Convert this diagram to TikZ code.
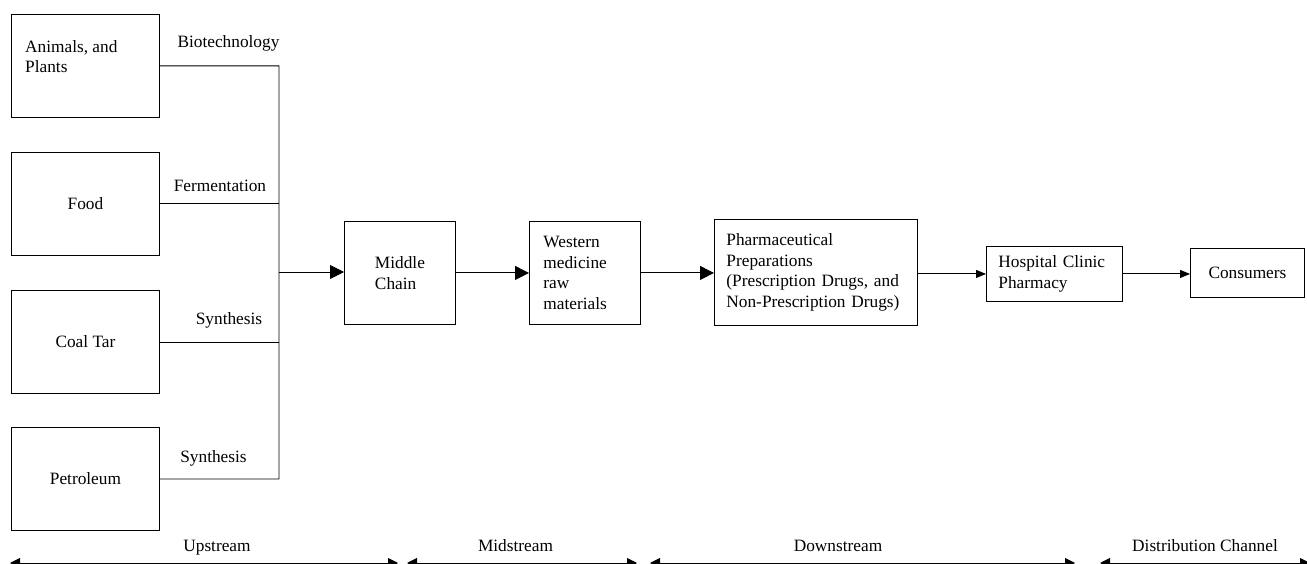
\documentclass[tikz,border=0pt]{standalone}
\usepackage{fontspec}
\setmainfont{Liberation Serif}
\usetikzlibrary{arrows.meta}
\newcommand\diagfont{\fontsize{17.3}{20.5}\selectfont}
\begin{document}
\begin{tikzpicture}[x=1pt,y=-1pt,
  box/.style={draw, line width=0.9pt, inner sep=0pt, anchor=north west, font=\diagfont},
  txt/.style={inner sep=0pt, align=left, font=\diagfont},
  conn/.style={line width=0.9pt},
  bigarr/.style={conn, -{Triangle[length=14pt,width=14pt]}},
  smallarr/.style={conn, -{Triangle[length=10pt,width=8pt]}},
  spanarr/.style={conn, {Triangle[length=10pt,width=10pt]}-{Triangle[length=10pt,width=10pt]}}
]
\useasboundingbox (0,0) rectangle (1307,564);

% source boxes
\node[box, minimum width=148pt, minimum height=103pt] (animals) at (11,14) {};
\node[txt, anchor=north west] (animalst) at (25,40) {Animals, and\\Plants};
\node[box, minimum width=148pt, minimum height=103pt] (food) at (11,152) {Food};
\node[box, minimum width=148pt, minimum height=103pt] (coal) at (11,290) {Coal Tar};
\node[box, minimum width=148pt, minimum height=103pt] (petro) at (11,427) {Petroleum};

% process labels
\node[txt, anchor=base] (lbio) at (228.5,48) {Biotechnology};
\node[txt, anchor=base] (lfer) at (220,192) {Fermentation};
\node[txt, anchor=base] (lsyn1) at (229,324) {Synthesis};
\node[txt, anchor=base] (lsyn2) at (213.5,462) {Synthesis};

% collector
\coordinate (spinetop) at (279,66);
\coordinate (spinebot) at (279,479);
\coordinate (junction) at (279,272);
\draw[conn] (animals.east) -| (spinebot) -- (petro.east);
\draw[conn] (food.east) -- (food.east -| spinetop);
\draw[conn] (coal.east) -- (coal.east -| spinetop);

% chain
\node[box, minimum width=111pt, minimum height=103pt, align=left] (middle) at (344,221) {Middle\\Chain};
\node[box, minimum width=111pt, minimum height=103pt, align=left, text width=83pt, inner xsep=14pt] (western) at (529,221) {Western\\medicine\\raw\\materials};
\node[box, minimum width=203pt, minimum height=106pt, align=left, text width=179pt, inner xsep=12pt] (pharma) at (714,219) {Pharmaceutical\\Preparations\\(Prescription Drugs, and\\Non-Prescription Drugs)};
\node[box, minimum width=136pt, minimum height=55pt, align=left, text width=112pt, inner xsep=12pt] (hospital) at (986,246) {Hospital Clinic\\Pharmacy};
\node[box, minimum width=114pt, minimum height=49pt] (consumers) at (1190,248) {Consumers};

\draw[bigarr] (junction) -- (junction -| middle.west);
\draw[bigarr] (middle.east) -- (western.west);
\draw[bigarr] (western.east) -- (western.east -| pharma.west);
\draw[smallarr] (pharma.east |- hospital.west) -- (hospital.west);
\draw[smallarr] (hospital.east) -- (hospital.east -| consumers.west);

% stage spans
\coordinate (u1) at (10,563);
\coordinate (u2) at (398,563);
\coordinate (m1) at (407,563);
\coordinate (m2) at (637,563);
\coordinate (d1) at (650,563);
\coordinate (d2) at (1075,563);
\coordinate (c1) at (1100,563);
\coordinate (c2) at (1310,563);
\draw[spanarr] (u1) -- (u2);
\draw[spanarr] (m1) -- (m2);
\draw[spanarr] (d1) -- (d2);
\draw[spanarr] (c1) -- (c2);
\node[txt, anchor=base] (lup) at (217,551) {Upstream};
\node[txt, anchor=base] (lmid) at (515.5,551) {Midstream};
\node[txt, anchor=base] (ldown) at (838,551) {Downstream};
\node[txt, anchor=base west] (ldist) at (1132,551) {Distribution Channel};
\end{tikzpicture}
\end{document}
